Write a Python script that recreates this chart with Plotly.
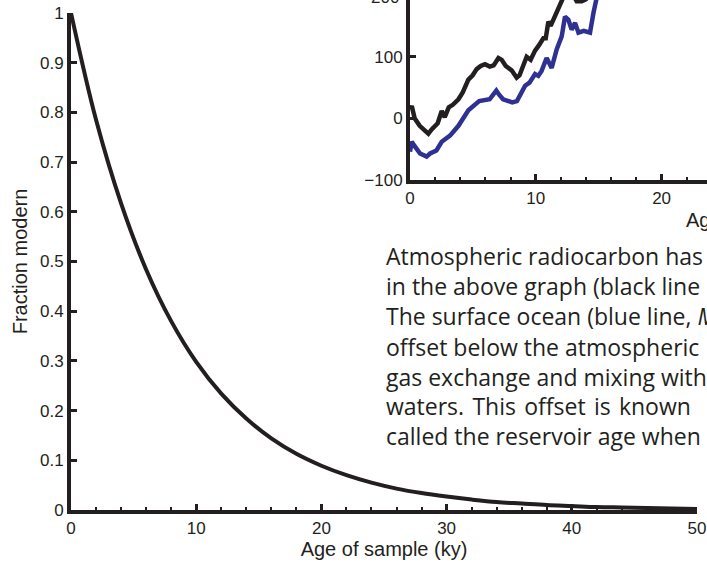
import plotly.graph_objects as go

# ---- main panel data: fraction modern vs age ----
age_ky = [0, 2, 4, 6, 8, 10, 12, 14, 16, 18, 20, 22, 24, 26, 28, 30, 32, 34, 36, 38, 40, 42, 44, 46, 48, 50]
fraction_modern = [1.0, 0.785, 0.617, 0.484, 0.380, 0.298, 0.234, 0.184, 0.144, 0.113, 0.089, 0.070,
                   0.055, 0.043, 0.034, 0.027, 0.021, 0.016, 0.013, 0.010, 0.008, 0.006, 0.005, 0.004,
                   0.003, 0.002]

# ---- inset data: delta14C (permil) vs age (ky) ----
atm_age = [0, 0.14, 0.37, 0.77, 1.19, 1.46, 1.72, 1.96, 2.2, 2.52, 2.76, 3.08, 3.4, 3.85, 4.19, 4.64,
           4.98, 5.3, 5.62, 5.96, 6.34, 6.65, 7.03, 7.29, 7.61, 8.08, 8.48, 8.71, 8.96, 9.27, 9.59,
           9.94, 10.23, 10.6, 10.79, 11.0, 11.18, 11.53, 11.92, 12.22, 12.54, 12.86, 13.25, 13.65,
           13.97, 14.28, 14.6, 14.9, 15.24, 16, 17]
atm_d14c = [15, 20, 0, -12, -20, -25, -18, -14, -8, 12, 2, 18, 22, 31, 42, 63, 70, 80, 85, 88, 84, 86,
            98, 95, 85, 78, 66, 70, 85, 100, 95, 110, 118, 130, 130, 157, 150, 168, 187, 198, 210,
            205, 190, 190, 193, 200, 225, 260, 290, 320, 350]
ocean_age = [0, 0.14, 0.3, 0.8, 1.32, 1.6, 2.1, 2.52, 3.18, 3.85, 4.64, 5.17, 5.5, 6.33, 6.62, 6.86,
             7.1, 7.4, 8.13, 8.5, 9.15, 9.5, 9.94, 10.2, 10.46, 10.86, 11.26, 11.66, 12.06, 12.32,
             12.59, 12.85, 13.12, 13.39, 13.81, 14.31, 14.58, 14.84, 15.2, 16, 17]
ocean_d14c = [-54, -38, -43, -57, -62, -57, -52, -38, -28, -12, 13, 23, 28, 31, 38, 45, 38, 31, 26,
              28, 53, 58, 72, 69, 77, 98, 82, 112, 133, 165, 160, 144, 155, 139, 142, 139, 171, 192,
              230, 260, 290]

main_xticks = [0, 10, 20, 30, 40, 50]
main_yticks = [0, 0.1, 0.2, 0.3, 0.4, 0.5, 0.6, 0.7, 0.8, 0.9, 1]
main_yticktext = ["0", "0.1", "0.2", "0.3", "0.4", "0.5", "0.6", "0.7", "0.8", "0.9", "1"]
inset_xticks = [0, 10, 20]
inset_yticks = [-100, 0, 100]

text_lines = [
    "Atmospheric radiocarbon has",
    "in the above graph (black line",
    "The surface ocean (blue line, <i>M</i>",
    "offset below the atmospheric",
    "gas exchange and mixing with",
    "waters. \u200aThis \u200aoffset \u200ais \u200aknown",
    "called the reservoir age when",
]

W, H = 707, 563
INK = "#231f20"
BLUE = "#2e3192"
tickfont = dict(family="Liberation Sans, Arial, sans-serif", size=17, color=INK)
titlefont = dict(family="Liberation Sans, Arial, sans-serif", size=20, color=INK)

fig = go.Figure()
fig.add_trace(go.Scatter(x=age_ky, y=fraction_modern, mode="lines",
                         line=dict(color=INK, width=4, shape="spline", smoothing=1.0),
                         xaxis="x", yaxis="y", showlegend=False))
fig.add_trace(go.Scatter(x=atm_age, y=atm_d14c, mode="lines",
                         line=dict(color=INK, width=4.5), xaxis="x2", yaxis="y2", showlegend=False))
fig.add_trace(go.Scatter(x=ocean_age, y=ocean_d14c, mode="lines",
                         line=dict(color=BLUE, width=4.5), xaxis="x2", yaxis="y2", showlegend=False))

axis_common = dict(showline=True, linecolor=INK, linewidth=4, showgrid=False, zeroline=False,
                   ticks="inside", tickcolor=INK, tickwidth=3, ticklen=6, tickfont=tickfont,
                   automargin=False)

fig.update_layout(
    width=W, height=H, autosize=False,
    margin=dict(l=0, r=0, t=0, b=0, pad=0),
    paper_bgcolor="white", plot_bgcolor="rgba(0,0,0,0)",
    xaxis=dict(domain=[71 / W, 697 / W], range=[0, 50], tickvals=main_xticks, anchor="y",
               minor=dict(dtick=2, ticks="inside", ticklen=3, tickwidth=2, tickcolor=INK),
               title=dict(text="Age of sample (ky)", font=titlefont, standoff=4), **axis_common),
    yaxis=dict(domain=[(H - 510) / H, (H - 13) / H], range=[0, 1], tickvals=main_yticks,
               ticktext=main_yticktext, anchor="x",
               title=dict(text="Fraction modern", font=titlefont, standoff=8), **axis_common),
    xaxis2=dict(domain=[410 / W, 1], range=[0, (W - 410) / 12.58], tickvals=inset_xticks, anchor="y2",
                minor=dict(dtick=2, ticks="inside", ticklen=3, tickwidth=2, tickcolor=INK),
                **axis_common),
    yaxis2=dict(domain=[(H - 180) / H, 1], range=[-100, 100 + 57.3 / 0.622], tickvals=inset_yticks,
                anchor="x2", **axis_common),
)

annotations = []
# inset 200 label (tick sits just above the top edge, cropped as in the reference)
annotations.append(dict(xref="paper", yref="paper", x=401 / W, y=1 + 3 / H, text="200",
                        showarrow=False, xanchor="right", yanchor="middle", font=tickfont))
annotations.append(dict(xref="paper", yref="paper", x=684 / W, y=1 - 220 / H, text="Age (ky)",
                        showarrow=False, xanchor="left", yanchor="middle", font=titlefont))
baselines = [263, 293, 323, 354, 384, 413, 443]
for line, b in zip(text_lines, baselines):
    annotations.append(dict(xref="paper", yref="paper", x=384 / W, y=1 - (b - 7) / H, text=line,
                            showarrow=False, xanchor="left", yanchor="middle",
                            font=dict(family="Open Sans, sans-serif", size=23, color=INK)))
fig.update_layout(annotations=annotations)

fig.write_html("out.html")
